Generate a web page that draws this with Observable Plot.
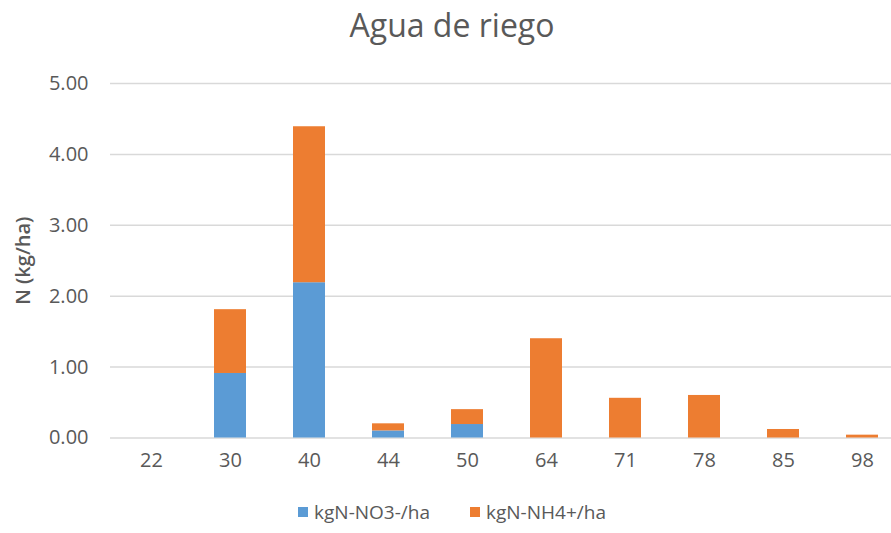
<!DOCTYPE html>
<html>
<head>
<meta charset="utf-8">
<script src="https://cdn.jsdelivr.net/npm/d3@7"></script>
<script src="https://cdn.jsdelivr.net/npm/@observablehq/plot@0.6"></script>
<style>
  html, body { margin: 0; padding: 0; background: #fff; overflow: hidden; }
  #wrap { position: relative; width: 891px; height: 533px; overflow: hidden; font-family: "Open Sans", sans-serif; color: #595959; }
  #title { position: absolute; left: 0; width: 904px; top: 3px; text-align: center; font-size: 32px; color: #595959; }
  #chart { position: absolute; left: 0; top: 0; width: 904px; }
  #chart svg { max-width: none !important; }
  #legend { position: absolute; top: 499px; left: 0; width: 904px; display: flex; justify-content: center; gap: 40px; font-size: 19px; color: #595959; }
  .item { display: flex; align-items: center; gap: 6px; }
  .sw { width: 10px; height: 10px; display: inline-block; }
</style>
</head>
<body>
<div id="wrap">
  <div id="chart"></div>
  <div id="title">Agua de riego</div>
  <div id="legend"></div>
</div>
<script>
const categories = ["22", "30", "40", "44", "50", "64", "71", "78", "85", "98"];
const no3 = [0, 0.91, 2.19, 0.10, 0.19, 0, 0, 0, 0, 0];
const nh4 = [0, 0.90, 2.20, 0.10, 0.21, 1.40, 0.56, 0.60, 0.12, 0.04];
const seriesNames = ["kgN-NO3-/ha", "kgN-NH4+/ha"];
const seriesColors = ["#5B9BD5", "#ED7D31"];
const yTicks = [0, 1, 2, 3, 4, 5];

const data = [];
categories.forEach((c, i) => {
  data.push({cat: c, series: seriesNames[0], value: no3[i]});
  data.push({cat: c, series: seriesNames[1], value: nh4[i]});
});

const chart = Plot.plot({
  width: 904,
  height: 533,
  marginLeft: 110,
  marginRight: 1,
  marginTop: 83,
  marginBottom: 95.5,
  style: {fontFamily: "Open Sans, sans-serif", fontSize: "20px", color: "#595959", background: "transparent"},
  x: {domain: categories, paddingInner: 0.6, paddingOuter: 0.3, label: null},
  y: {domain: [0, 5], label: null},
  color: {domain: seriesNames, range: seriesColors},
  marks: [
    Plot.gridY(yTicks, {stroke: "#D9D9D9", strokeOpacity: 1, strokeWidth: 1.5}),
    Plot.barY(data, {x: "cat", y: "value", fill: "series", order: seriesNames}),
    Plot.axisY(yTicks, {tickSize: 0, tickPadding: 22, tickFormat: d => d.toFixed(2), fontSize: 20, label: null}),
    Plot.axisX({tickSize: 0, tickPadding: 15, fontSize: 20, label: null}),
    Plot.text(["N (kg/ha)"], {frameAnchor: "left", textAnchor: "middle", dx: -87, rotate: -90, fontSize: 20, fontWeight: 600, fill: "#595959"})
  ]
});
chart.style.maxWidth = "none";
document.getElementById("chart").appendChild(chart);

const legend = document.getElementById("legend");
seriesNames.forEach((name, i) => {
  const item = document.createElement("div");
  item.className = "item";
  const sw = document.createElement("span");
  sw.className = "sw";
  sw.style.background = seriesColors[i];
  const t = document.createElement("span");
  t.textContent = name;
  item.appendChild(sw);
  item.appendChild(t);
  legend.appendChild(item);
});
</script>
</body>
</html>
